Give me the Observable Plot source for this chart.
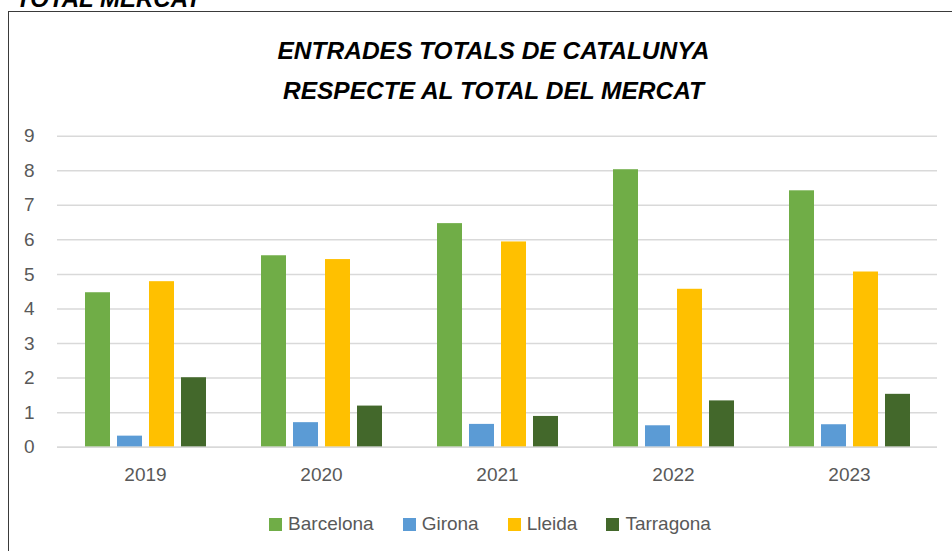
<!DOCTYPE html>
<html>
<head>
<meta charset="utf-8">
<script src="https://cdn.jsdelivr.net/npm/d3@7"></script>
<script src="https://cdn.jsdelivr.net/npm/@observablehq/plot@0.6"></script>
<style>
  html, body { margin: 0; padding: 0; background: #fff; width: 952px; height: 551px; overflow: hidden; position: relative; }
  .frame { position: absolute; left: 8px; top: 11px; width: 1000px; height: 600px; border-left: 1.5px solid #3a3a3a; border-top: 1.5px solid #3a3a3a; }
  .cut { position: absolute; left: 16px; top: -13px; font: italic bold 24px "Liberation Sans", Arial, sans-serif; line-height: 24px; color: #000; white-space: nowrap; }
  .title { position: absolute; left: 0; width: 987px; text-align: center; font: italic bold 24.5px "Liberation Sans", Arial, sans-serif; line-height: 40px; color: #000; white-space: nowrap; }
  #chart { position: absolute; left: 0; top: 0; }
  .legend { position: absolute; left: 0; width: 980px; top: 513px; display: flex; justify-content: center; align-items: center; font: 19px "Liberation Sans", Arial, sans-serif; color: #595959; }
  .legend .item { display: flex; align-items: center; margin: 0 14.5px; }
  .legend .sw { width: 13px; height: 13px; margin-right: 6px; }
</style>
</head>
<body>
<div class="cut">TOTAL MERCAT</div>
<div class="frame"></div>
<div id="chart"></div>
<div class="title" style="top:31px">ENTRADES TOTALS DE CATALUNYA</div>
<div class="title" style="top:71px">RESPECTE AL TOTAL DEL MERCAT</div>
<div class="legend" id="legend"></div>
<script>
const years = ["2019", "2020", "2021", "2022", "2023"];
const cities = ["Barcelona", "Girona", "Lleida", "Tarragona"];
const barcelona = [4.47, 5.54, 6.47, 8.03, 7.42];
const girona = [0.32, 0.71, 0.66, 0.62, 0.65];
const lleida = [4.79, 5.43, 5.94, 4.57, 5.07];
const tarragona = [2.01, 1.19, 0.89, 1.34, 1.53];
const yTicks = [0, 1, 2, 3, 4, 5, 6, 7, 8, 9];
const colors = ["#70ad47", "#5b9bd5", "#ffc000", "#43682b"];

const series = [barcelona, girona, lleida, tarragona];
const data = [];
years.forEach((yr, i) => {
  cities.forEach((c, j) => data.push({year: yr, city: c, value: series[j][i]}));
});

const chart = Plot.plot({
  width: 952,
  height: 551,
  marginTop: 135.7,
  marginBottom: 104.3,
  marginLeft: 57,
  marginRight: 15,
  style: {background: "none", fontFamily: "'Liberation Sans', Arial, sans-serif", fontSize: "19px", color: "#595959", overflow: "visible"},
  fx: {domain: years, padding: 0, label: null, axis: "bottom", tickSize: 0, tickPadding: 20},
  x: {domain: cities, paddingInner: 0.22, paddingOuter: 0.86, axis: null},
  y: {domain: [0, 9], ticks: yTicks, tickSize: 0, tickPadding: 23, label: null, tickFormat: d => String(d)},
  color: {domain: cities, range: colors},
  marks: [
    Plot.gridY(yTicks, {stroke: "#d9d9d9", strokeOpacity: 1, strokeWidth: 1.5}),
    Plot.barY(data, {fx: "year", x: "city", y: "value", fill: "city"}),
    Plot.ruleY([0], {stroke: "#d9d9d9", strokeWidth: 1.5})
  ]
});
document.getElementById("chart").appendChild(chart);

const legend = document.getElementById("legend");
cities.forEach((c, j) => {
  const item = document.createElement("div");
  item.className = "item";
  const sw = document.createElement("div");
  sw.className = "sw";
  sw.style.background = colors[j];
  const label = document.createElement("span");
  label.textContent = c;
  item.appendChild(sw);
  item.appendChild(label);
  legend.appendChild(item);
});
</script>
</body>
</html>
